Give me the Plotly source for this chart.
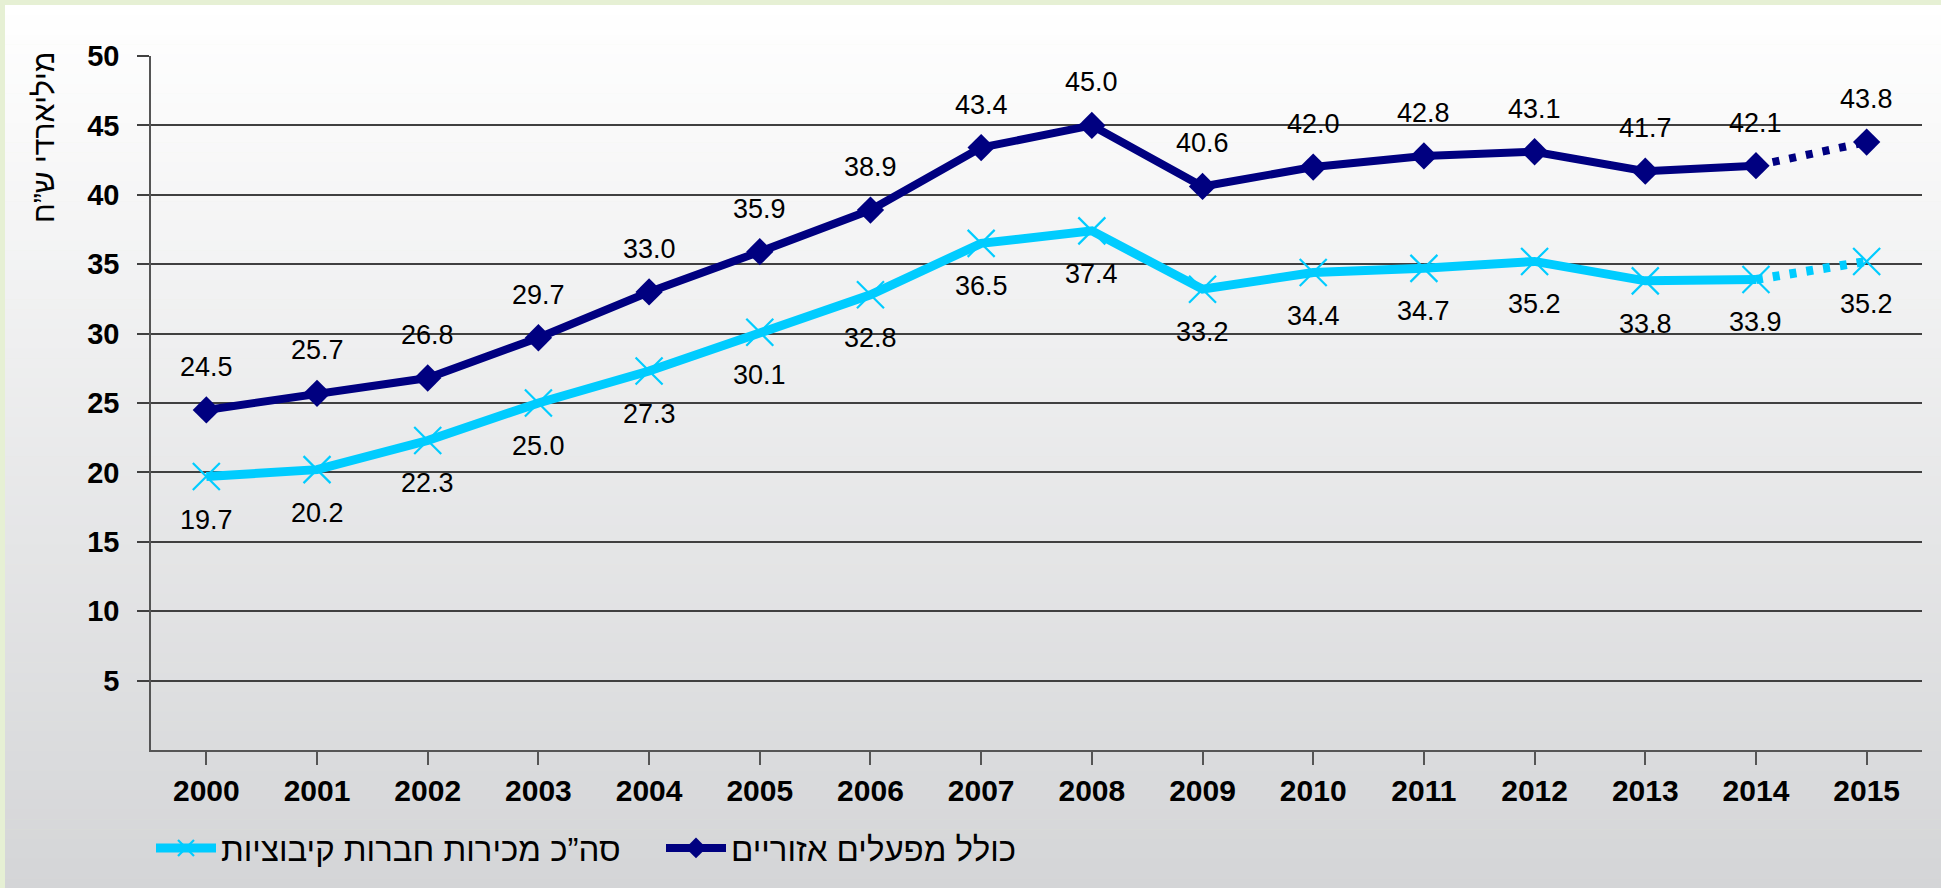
import plotly.graph_objects as go

years = [str(y) for y in range(2000, 2016)]
incl_regional = [24.5, 25.7, 26.8, 29.7, 33.0, 35.9, 38.9, 43.4, 45.0, 40.6, 42.0, 42.8, 43.1, 41.7, 42.1, 43.8]
kibbutz_sales = [19.7, 20.2, 22.3, 25.0, 27.3, 30.1, 32.8, 36.5, 37.4, 33.2, 34.4, 34.7, 35.2, 33.8, 33.9, 35.2]
y_ticks = [5, 10, 15, 20, 25, 30, 35, 40, 45, 50]
name_sales = "סה”כ מכירות חברות קיבוציות"
name_incl = "כולל מפעלים אזוריים"
y_title = "מיליארדי ש”ח"

NAVY = "#000080"
CYAN = "#00CCFF"
FONT = "Arial, Liberation Sans, sans-serif"

W, H = 1941, 888
L, R, T, B = 151, 19, 56, 138
pw, ph = W - L - R, H - T - B

fig = go.Figure()

series = [
    (name_sales, kibbutz_sales, CYAN, 9, "7px,10px",
     dict(symbol="x-thin", size=27, line=dict(color=CYAN, width=2.2), color=CYAN)),
    (name_incl, incl_regional, NAVY, 8, "7px,10px",
     dict(symbol="diamond", size=21, color=NAVY, line=dict(width=0))),
]
for name, vals, col, lw, dash, mk in series:
    fig.add_trace(go.Scatter(x=years[14:], y=vals[14:], mode="lines",
                             line=dict(color=col, width=lw, dash=dash),
                             showlegend=False, hoverinfo="skip"))
    fig.add_trace(go.Scatter(x=years[:15], y=vals[:15], mode="lines+markers",
                             line=dict(color=col, width=lw), marker=mk, name=name))
    fig.add_trace(go.Scatter(x=years[15:], y=vals[15:], mode="markers",
                             marker=mk, showlegend=False))

annotations = []
for i, v in enumerate(incl_regional):
    annotations.append(dict(x=i, y=v, text=f"{v:.1f}", showarrow=False, yshift=43,
                            font=dict(family=FONT, size=27, color="black")))
for i, v in enumerate(kibbutz_sales):
    annotations.append(dict(x=i, y=v, text=f"{v:.1f}", showarrow=False, yshift=-43,
                            font=dict(family=FONT, size=27, color="black")))
annotations.append(dict(xref="paper", yref="paper", x=(44 - L) / pw, y=(750 - 138) / ph,
                        text=y_title, textangle=-90, showarrow=False,
                        xanchor="center", yanchor="middle",
                        font=dict(family=FONT, size=30, color="black")))

# background gradient (white -> light grey), drawn as thin bands
shapes = []
nb = 90
top_px, bot_px, left_px = 5, H, 5
c0 = (255, 255, 255)
c1 = (212, 213, 215)
for i in range(nb):
    y0p = top_px + (bot_px - top_px) * i / nb
    y1p = top_px + (bot_px - top_px) * (i + 1) / nb + 0.5
    t = (i + 0.5) / nb
    c = tuple(round(c0[k] + (c1[k] - c0[k]) * t) for k in range(3))
    shapes.append(dict(type="rect", xref="paper", yref="paper", layer="below",
                       x0=(left_px - L) / pw, x1=(W + 5 - L) / pw,
                       y0=(H - B - y1p) / ph, y1=(H - B - y0p) / ph,
                       line=dict(width=0), fillcolor=f"rgb{c}"))

fig.update_layout(
    width=W, height=H,
    margin=dict(l=L, r=R, t=T, b=B, pad=0, autoexpand=False),
    paper_bgcolor="#E6F0D4",
    plot_bgcolor="rgba(0,0,0,0)",
    font=dict(family=FONT, color="black"),
    shapes=shapes,
    annotations=annotations,
    showlegend=True,
    legend=dict(orientation="h", x=0, xanchor="left", y=(750 - 848) / ph, yanchor="middle",
                bgcolor="rgba(0,0,0,0)", font=dict(family=FONT, size=33, color="black"),
                itemwidth=60, entrywidth=435, entrywidthmode="pixels"),
    xaxis=dict(type="category", categoryorder="array", categoryarray=years,
               range=[-0.5, 15.5], showgrid=False, automargin=False,
               showline=True, linecolor="#555555", linewidth=1.5,
               ticks="outside", ticklen=13, tickcolor="#555555", tickwidth=1.5,
               tickfont=dict(family=FONT, size=30, color="black", weight="bold"),
               fixedrange=True),
    yaxis=dict(range=[0, 50], tickvals=y_ticks, ticktext=[str(v) for v in y_ticks],
               showgrid=True, gridcolor="#404040", gridwidth=1.5, automargin=False,
               showline=True, linecolor="#555555", linewidth=1.5,
               ticks="outside", ticklen=12, tickcolor="#404040", tickwidth=1.5,
               ticklabelstandoff=12,
               tickfont=dict(family=FONT, size=29, color="black", weight="bold"),
               zeroline=False, fixedrange=True),
)

fig.write_html("out.html", config={"displayModeBar": False},
               post_script=["document.body.style.margin='0px';document.body.style.overflow='hidden';"])
